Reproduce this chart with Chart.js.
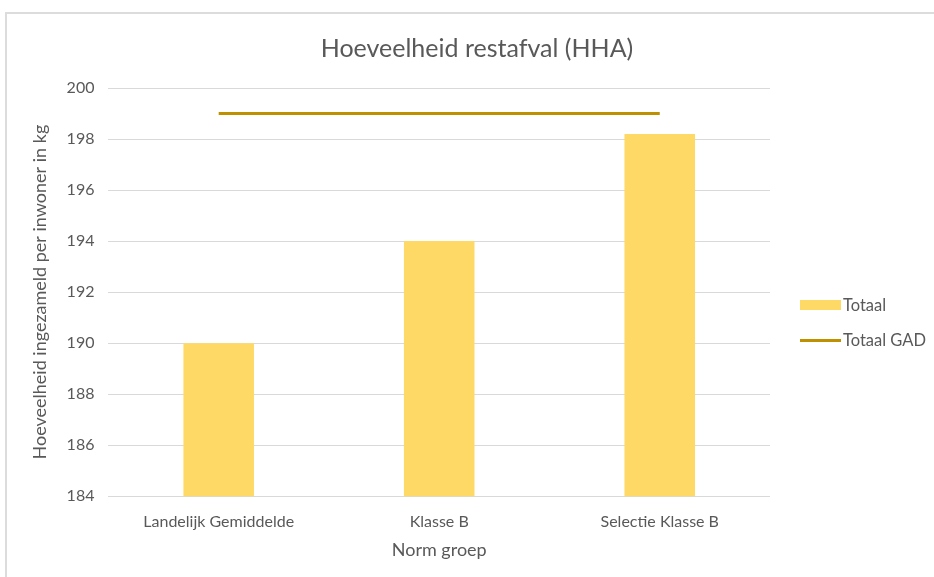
<!DOCTYPE html>
<html lang="nl">
<head>
  <meta charset="UTF-8" />
  <title>Hoeveelheid restafval (HHA)</title>
  <style>
    html, body {
      margin: 0;
      padding: 0;
      background: #fff;
      overflow: hidden;
      font-family: 'Lato', 'Open Sans', sans-serif;
    }
    #frame {
      position: absolute;
      left: 5px;
      top: 12px;
      width: 980px;
      height: 620px;
      border: 2px solid #dcdcdc;
    }
    #wrap {
      position: absolute;
      left: 0;
      top: 0;
      width: 934px;
      height: 577px;
    }
    #title {
      position: absolute;
      left: 277px;
      width: 400px;
      top: 32px;
      text-align: center;
      font-size: 25px;
      color: #595959;
      line-height: 30px;
    }
    #legend {
      position: absolute;
      left: 800px;
      top: 294px;
      font-size: 16.5px;
      color: #595959;
    }
    .item {
      display: flex;
      align-items: center;
      height: 22px;
      margin-bottom: 13px;
    }
    .sw {
      width: 41px;
      margin-right: 2px;
    }
  </style>
</head>
<body>
<div id="frame"></div>
<div id="wrap"><canvas id="c" width="934" height="577"></canvas></div>
<div id="title">Hoeveelheid restafval (HHA)</div>
<div id="legend"></div>

<script src="https://cdn.jsdelivr.net/npm/chart.js"></script>
<script>
  const categories = ['Landelijk Gemiddelde', 'Klasse B', 'Selectie Klasse B'];
  const totaal = [190, 194, 198.2];
  const totaalGAD = [199, 199, 199];
  const yTicks = [184, 186, 188, 190, 192, 194, 196, 198, 200];

  const barColor = '#FFD966';
  const lineColor = '#BF9000';
  const textColor = '#595959';

  // legend as html on the right
  const legend = document.getElementById('legend');
  [['Totaal', barColor, 10], ['Totaal GAD', lineColor, 3]].forEach(([name, col, h]) => {
    const it = document.createElement('div');
    it.className = 'item';
    it.innerHTML = `<span class="sw" style="height:${h}px;background:${col}"></span><span>${name}</span>`;
    legend.appendChild(it);
  });

  const ctx = document.getElementById('c').getContext('2d');
  new Chart(ctx, {
    data: {
      labels: categories,
      datasets: [
        {
          type: 'line',
          label: 'Totaal GAD',
          data: totaalGAD,
          borderColor: lineColor,
          borderWidth: 3,
          pointRadius: 0,
          fill: false
        },
        {
          type: 'bar',
          label: 'Totaal',
          data: totaal,
          backgroundColor: barColor,
          barPercentage: 0.32,
          categoryPercentage: 1
        }
      ]
    },
    options: {
      responsive: false,
      animation: false,
      layout: {
        padding: {left: 25, right: 164, top: 88, bottom: 12}
      },
      plugins: {
        legend: {display: false},
        tooltip: {enabled: false}
      },
      scales: {
        x: {
          grid: {display: false},
          border: {display: false},
          ticks: {
            color: textColor,
            font: {family: 'Lato', size: 16},
            padding: 8
          },
          title: {
            display: true,
            text: 'Norm groep',
            color: textColor,
            font: {family: 'Lato', size: 18},
            padding: {top: 0}
          }
        },
        y: {
          min: yTicks[0],
          max: yTicks[yTicks.length - 1],
          afterBuildTicks: axis => {
            axis.ticks = yTicks.map(v => ({value: v}));
          },
          grid: {color: '#d9d9d9', drawTicks: false},
          border: {display: false},
          ticks: {
            color: textColor,
            font: {family: 'Lato', size: 16},
            padding: 14
          },
          title: {
            display: true,
            text: 'Hoeveelheid ingezameld per inwoner in kg',
            color: textColor,
            font: {family: 'Lato', size: 18},
            padding: {bottom: 2}
          }
        }
      }
    }
  });
</script>
</body>
</html>
